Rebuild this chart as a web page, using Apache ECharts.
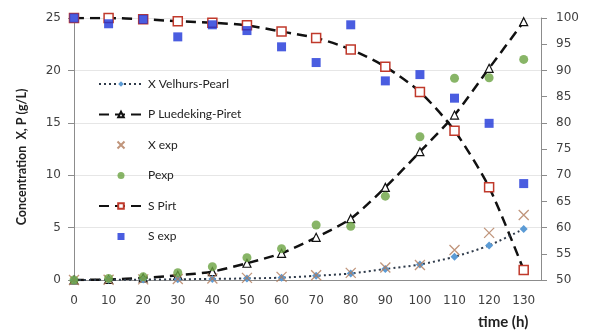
<!DOCTYPE html>
<html><head><meta charset="utf-8">
<script src="https://cdn.jsdelivr.net/npm/echarts@6/dist/echarts.min.js"></script>
<style>html,body{margin:0;padding:0;background:#fff}#c{width:591px;height:333px}</style>
</head><body><div id="c"></div>
<script>
const time = [0,10,20,30,40,50,60,70,80,90,100,110,120,130];
const xVelhursPearl = [0,0.02,0.04,0.07,0.1,0.15,0.22,0.4,0.62,1.05,1.48,2.22,3.3,4.87];
const pLuedekingPiret = [0,0.05,0.2,0.45,0.8,1.6,2.55,4.07,5.85,8.84,12.24,15.74,20.2,24.65];
const xExp = [0,0.03,0.06,0.1,0.15,0.2,0.3,0.45,0.68,1.2,1.43,2.86,4.5,6.2];
const pExp = [0,0.15,0.3,0.7,1.27,2.13,2.99,5.25,5.12,8.0,13.67,19.25,19.3,21.05];
const sPirt = [100,100,99.75,99.4,99.1,98.6,97.4,96.2,94.0,90.7,85.9,78.5,67.7,51.9];
const sExp = [100,98.9,99.75,96.4,98.7,97.6,94.5,91.5,98.7,88.0,89.2,84.7,79.9,68.4];
const xTicks = {min:0,max:135,interval:10};
const leftTicks = {min:0,max:25,interval:5};
const rightTicks = {min:50,max:100,interval:5};

const pair = (arr) => time.map((t,i)=>[t,arr[i]]);
const chart = echarts.init(document.getElementById('c'));
const axisGray = '#8c8c8c';
const labelStyle = {color:'#404040',fontFamily:'DejaVu Sans',fontSize:12};
chart.setOption({
  animation:false,
  backgroundColor:'#fff',
  grid:{left:74,right:50,top:18,bottom:53},
  legend:{
    orient:'vertical', left:93, top:73, itemWidth:44, itemHeight:7, itemGap:18.5,
    textStyle:{fontFamily:'Lato',fontSize:12,color:'#222'},
    data:['X Velhurs-Pearl','P Luedeking-Piret','X exp','Pexp','S Pirt',
      {name:'S exp', icon:'path://M0,0H10V10H0Z'}]
  },
  xAxis:{
    type:'value', min:xTicks.min, max:xTicks.max, interval:xTicks.interval,
    axisLine:{lineStyle:{color:axisGray}},
    axisTick:{show:false},
    axisLabel:Object.assign({margin:15, showMaxLabel:false},labelStyle),
    splitLine:{show:false}
  },
  yAxis:[
    {type:'value', min:leftTicks.min, max:leftTicks.max, interval:leftTicks.interval,
     axisLine:{show:true,lineStyle:{color:axisGray}},
     axisTick:{show:true,length:6,lineStyle:{color:axisGray}},
     axisLabel:Object.assign({margin:13},labelStyle),
     splitLine:{lineStyle:{color:'#e6e6e6'}}},
    {type:'value', min:rightTicks.min, max:rightTicks.max, interval:rightTicks.interval,
     position:'right',
     axisLine:{show:true,lineStyle:{color:axisGray}},
     axisTick:{show:true,length:6,lineStyle:{color:axisGray}},
     axisLabel:Object.assign({margin:15},labelStyle),
     splitLine:{show:false}}
  ],
  graphic:[
    {type:'text', left:478, top:315, style:{text:'time (h)', font:'bold 15px Lato', fill:'#222'}},
    {type:'text', x:22, y:157, rotation:Math.PI/2,
     style:{text:'Concentration  X, P (g/L)', font:'bold 12.5px Lato', fill:'#222', align:'center', verticalAlign:'middle'}}
  ],
  series:[
    {name:'S Pirt', type:'line', yAxisIndex:1, data:pair(sPirt), smooth:0.25,
     symbol:'rect', symbolSize:9,
     lineStyle:{color:'#111',width:2.5,type:[10,6]},
     itemStyle:{color:'#fff',borderColor:'#c0392b',borderWidth:1.5}, z:3},
    {name:'P Luedeking-Piret', type:'line', yAxisIndex:0, data:pair(pLuedekingPiret), smooth:0.25,
     symbol:'triangle', symbolSize:8,
     lineStyle:{color:'#111',width:2.5,type:[10,6]},
     itemStyle:{color:'#fff',borderColor:'#111',borderWidth:1.2}, z:3},
    {name:'X Velhurs-Pearl', type:'line', yAxisIndex:0, data:pair(xVelhursPearl), smooth:0.25,
     symbol:'diamond', symbolSize:8,
     lineStyle:{color:'#2e3a4a',width:2,type:[2,3]},
     itemStyle:{color:'#5b9bd5'}, z:3},
    {name:'X exp', type:'scatter', yAxisIndex:0, data:pair(xExp),
     symbol:'path://M0,0L10,10M10,0L0,10', symbolSize:10,
     itemStyle:{color:'rgba(0,0,0,0)',borderColor:'#b07a5a',borderWidth:1.3}, z:4},
    {name:'Pexp', type:'scatter', yAxisIndex:0, data:pair(pExp),
     symbol:'circle', symbolSize:9,
     itemStyle:{color:'#6aa341'}, z:4},
    {name:'S exp', type:'scatter', yAxisIndex:1, data:pair(sExp),
     symbol:'rect', symbolSize:9,
     itemStyle:{color:'#1d35d8'}, z:5}
  ]
});
</script></body></html>
